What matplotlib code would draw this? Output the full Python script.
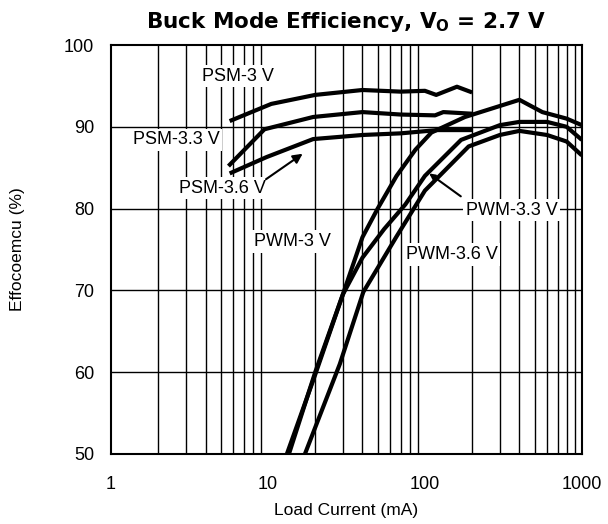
import matplotlib.pyplot as plt
import numpy as np
from matplotlib.ticker import FixedLocator, NullFormatter

plt.rcParams["font.family"] = ["Liberation Sans", "DejaVu Sans"]
plt.rcParams["mathtext.fontset"] = "custom"
plt.rcParams["mathtext.rm"] = "DejaVu Sans"
plt.rcParams["mathtext.bf"] = "DejaVu Sans:bold"

# Load current (mA) and efficiency (%)
psm_3_x = [5.7, 10.5, 20, 40, 70, 100, 118, 160, 200]
psm_3_y = [90.7, 92.8, 93.9, 94.5, 94.3, 94.4, 93.9, 94.9, 94.2]

psm_33_x = [5.6, 9.5, 19.4, 40, 70, 116, 131, 200]
psm_33_y = [85.2, 89.7, 91.2, 91.8, 91.5, 91.4, 91.8, 91.6]

psm_36_x = [5.7, 9.8, 19.4, 40, 70, 120, 200]
psm_36_y = [84.3, 86.3, 88.5, 89.0, 89.2, 89.6, 89.6]

pwm_3_x = [13.2, 20, 30, 40, 50, 66, 87, 110, 180, 400, 560, 800, 1000]
pwm_3_y = [50, 59.7, 69.5, 76.5, 80, 84, 87.2, 89.3, 91.2, 93.3, 91.8, 91.0, 90.2]

pwm_33_x = [13.6, 20, 30, 40, 55, 75, 100, 170, 300, 400, 600, 800, 1000]
pwm_33_y = [50, 60, 69.5, 74, 77.5, 80.5, 84, 88.4, 90.2, 90.6, 90.6, 90.0, 88.4]

pwm_36_x = [17.2, 28.7, 40.5, 66, 100, 190, 300, 400, 600, 800, 1000]
pwm_36_y = [50, 61, 69.8, 76.6, 82.2, 87.6, 89.0, 89.5, 89.0, 88.2, 86.5]

x_ticks = [1, 10, 100, 1000]
y_ticks = [50, 60, 70, 80, 90, 100]

fig = plt.figure(figsize=(6.08, 5.24), dpi=100)
ax = fig.add_axes([0.1826, 0.1336, 0.7744, 0.7805])

ax.set_xscale("log")
ax.set_xlim(1, 1000)
ax.set_ylim(50, 100)

minor = [m * 10 ** d for d in range(3) for m in range(2, 10)]
for xv in minor:
    ax.axvline(xv, color="black", lw=1.0, zorder=1)
for yv in y_ticks[1:-1]:
    ax.axhline(yv, color="black", lw=1.0, zorder=1)

for xs, ys in [(psm_3_x, psm_3_y), (psm_33_x, psm_33_y), (psm_36_x, psm_36_y),
               (pwm_3_x, pwm_3_y), (pwm_33_x, pwm_33_y), (pwm_36_x, pwm_36_y)]:
    ax.plot(xs, ys, color="black", lw=3.0, solid_capstyle="butt", zorder=3)

box = dict(facecolor="white", edgecolor="none", pad=2)
labels = [
    ("PSM-3 V", 6.4, 96.2),
    ("PSM-3.3 V", 2.6, 88.4),
    ("PSM-3.6 V", 5.1, 82.5),
    ("PWM-3 V", 14.4, 76.0),
    ("PWM-3.6 V", 148, 74.4),
    ("PWM-3.3 V", 358, 79.8),
]
for txt, xv, yv in labels:
    ax.text(xv, yv, txt, fontsize=13, ha="center", va="center", bbox=box, zorder=2)

ax.annotate("", xy=(17.2, 86.9), xytext=(9.4, 83.4),
            arrowprops=dict(arrowstyle="-|>", color="black", lw=1.5,
                            mutation_scale=14), zorder=4)
ax.annotate("", xy=(103, 84.5), xytext=(175, 81.3),
            arrowprops=dict(arrowstyle="-|>", color="black", lw=1.5,
                            mutation_scale=8), zorder=4)

ax.xaxis.set_major_locator(FixedLocator(x_ticks))
ax.xaxis.set_minor_locator(FixedLocator(minor))
ax.xaxis.set_minor_formatter(NullFormatter())
ax.set_xticklabels([str(v) for v in x_ticks])
ax.set_yticks(y_ticks)
ax.tick_params(axis="both", which="both", length=0, labelsize=13)
ax.tick_params(axis="x", pad=16)
ax.tick_params(axis="y", pad=12)

for sp in ax.spines.values():
    sp.set_linewidth(1.5)

ax.set_xlabel("Load Current (mA)", fontsize=12.5, labelpad=7)
ax.set_ylabel("Effocoemcu (%)", fontsize=12.5, labelpad=28)
ax.set_title(r"Buck Mode Efficiency, V$_\mathbf{O}$ = 2.7 V",
             fontsize=15.5, fontweight="bold", family="DejaVu Sans", pad=12)

plt.savefig("out.png", dpi=100)
plt.close(fig)
